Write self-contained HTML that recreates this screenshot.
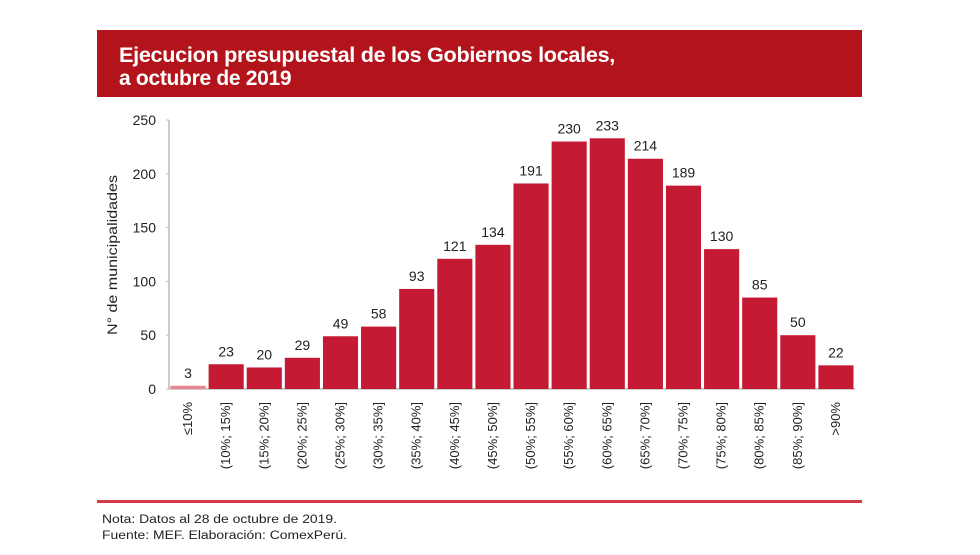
<!DOCTYPE html>
<html><head><meta charset="utf-8"><style>
body{margin:0;background:#fff;width:980px;height:550px;overflow:hidden;font-family:"Liberation Sans",sans-serif;}
</style></head><body>
<svg width="980" height="550" xmlns="http://www.w3.org/2000/svg" font-family="Liberation Sans, sans-serif">
<rect x="97" y="30" width="765" height="67" fill="#b3141b"/>
<text fill="#fff" font-size="21" font-weight="bold" letter-spacing="-0.3"><tspan x="119" y="62" textLength="496" lengthAdjust="spacingAndGlyphs">Ejecucion presupuestal de los Gobiernos locales,</tspan><tspan x="119" y="85">a octubre de 2019</tspan></text>
<g id="chart"></g>
<text transform="translate(117,255) rotate(-90)" text-anchor="middle" font-size="13.5" fill="#222" textLength="160" lengthAdjust="spacingAndGlyphs">N° de municipalidades</text>
<rect x="97" y="500" width="765" height="3" fill="#d23a4a"/>
<text x="102" y="523" font-size="11.5" fill="#222" textLength="235" lengthAdjust="spacingAndGlyphs">Nota: Datos al 28 de octubre de 2019.</text>
<text x="102" y="539" font-size="11.5" fill="#222" textLength="245" lengthAdjust="spacingAndGlyphs">Fuente: MEF. Elaboración: ComexPerú.</text>
</svg>
<script>
const categories=["≤10%","(10%; 15%]","(15%; 20%]","(20%; 25%]","(25%; 30%]","(30%; 35%]","(35%; 40%]","(40%; 45%]","(45%; 50%]","(50%; 55%]","(55%; 60%]","(60%; 65%]","(65%; 70%]","(70%; 75%]","(75%; 80%]","(80%; 85%]","(85%; 90%]",">90%"];
const values=[3,23,20,29,49,58,93,121,134,191,230,233,214,189,130,85,50,22];
const ticks=[0,50,100,150,200,250];
const NS="http://www.w3.org/2000/svg";
const g=document.getElementById('chart');
const x0=169,x1=855,y0=389,yTop=120,yMax=250;
const slot=(x1-x0)/categories.length;
const yS=v=>y0-(v/yMax)*(y0-yTop);
const xS=i=>x0+i*slot;
function mk(t,a){const e=document.createElementNS(NS,t);for(const k in a)e.setAttribute(k,a[k]);g.appendChild(e);return e;}
const ax=mk('line',{x1:x0,y1:yTop,x2:x0,y2:y0,stroke:'#bbb','stroke-width':1.5});


const bx=mk('line',{x1:x0,y1:y0,x2:x1,y2:y0,stroke:'#bbb','stroke-width':1.5});


ticks.forEach(t=>{
 const tl=mk('text',{x:156,y:yS(t)+5,'text-anchor':'end','font-size':14,fill:'#222'});
 tl.textContent=t;
 
 
 const tk=mk('line',{x1:x0-3,y1:yS(t),x2:x0,y2:yS(t),stroke:'#bbb'});
 
 
});
values.forEach((v,i)=>{
 const r=mk('rect',{x:xS(i)+1.5,y:yS(v),width:slot-3,height:y0-yS(v),fill:i===0?'#e8868f':'#c41a33'});
 
 
 const l=mk('text',{x:xS(i)+slot/2,y:yS(v)-8,'text-anchor':'middle','font-size':14,fill:'#222'});
 l.textContent=v;
 
 
 const cx=xS(i)+slot/2+4;
 const c=mk('text',{transform:`translate(${cx},402) rotate(-90)`,'text-anchor':'end','font-size':13,fill:'#222'});
 c.textContent=categories[i];
 
 
});
</script>
</body></html>
